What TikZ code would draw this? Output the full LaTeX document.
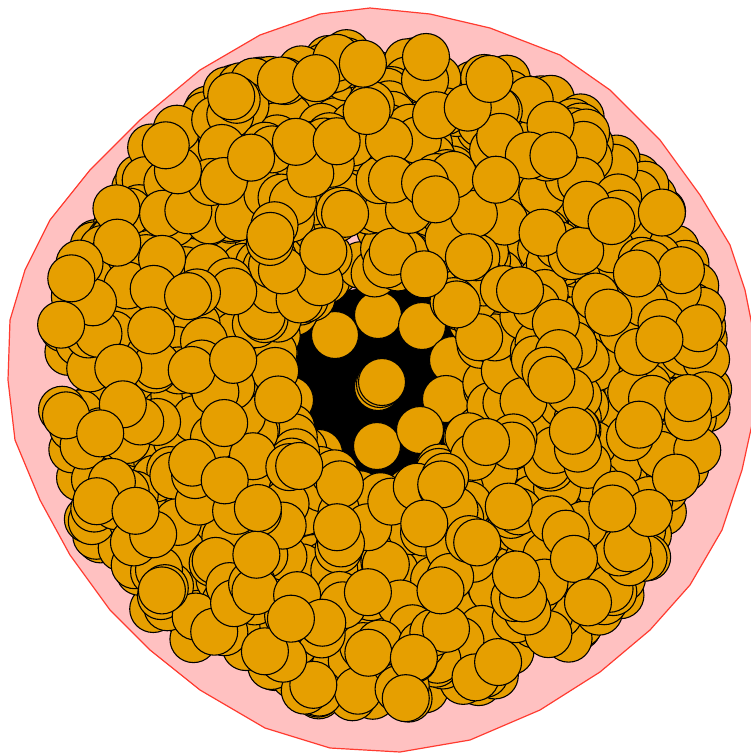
\documentclass[tikz,border=0pt]{standalone}
\definecolor{discfill}{HTML}{E69F00}
\definecolor{hullfill}{HTML}{FFC1C1}
\definecolor{hullline}{HTML}{FF3B30}
\begin{document}
\begin{tikzpicture}[x=10pt,y=-10pt,
  disc/.style={fill=discfill,draw=black,line width=1.1pt},
  hull/.style={fill=hullfill,draw=hullline,line width=1.2pt,line join=round}]
\useasboundingbox (0,0) rectangle (75.1,75.6);
\path[hull] (37,0.8) -- (43,1.4) -- (49,2.8) -- (56,5.5) -- (61,9) -- (66,14) -- (70,19.5) -- (73,24.5) -- (74.5,29) -- (75.3,33) -- (75.3,42) -- (74.2,47) -- (72.2,53) -- (69,58.5) -- (65,63) -- (60,67.2) -- (54,71) -- (47,74) -- (40,75.2) -- (33,74.8) -- (26.5,72.8) -- (20,69) -- (15,65) -- (11,61) -- (7,55.5) -- (4,50) -- (1.5,44) -- (0.8,38) -- (1,32) -- (2.5,27) -- (5,22) -- (9,17) -- (14,12) -- (20,7) -- (26,3.5) -- (32,1.4) -- cycle;
\fill[black] (30,33) -- (32,29.5) -- (38,28.5) -- (44,29) -- (48,32) -- (49,37) -- (47.5,42) -- (45,47) -- (40,48) -- (36,47.5) -- (32,47) -- (29.5,44) -- (29,38) -- cycle;
\foreach \x/\y in {33.5/33.5,37.8/31.5,42.2/32.6,45.3/36.0,44.6/39.9,37.7/44.6,42.0/43.0,31.9/45.3,29.0/40.0,47.9/43.0,49.8/36.2,26.1/38.8}
  \path[disc] (\x,\y) circle (2.35);
\path[disc] (37.8,38.7) circle (2.35);
\path[disc] (38.0,38.4) circle (2.35);
\path[disc] (38.2,38.2) circle (2.35);
\pgfmathsetseed{11}
\foreach \i in {1,...,1300}{
  \pgfmathsetmacro\ang{360*rnd}
  \pgfmathsetmacro\rad{sqrt(rnd*(32.7*32.7-10.3*10.3)+10.3*10.3)}
  \path[disc,shift={(38.2,37.7)}] (\ang:\rad) circle (2.35);
}
\end{tikzpicture}
\end{document}
